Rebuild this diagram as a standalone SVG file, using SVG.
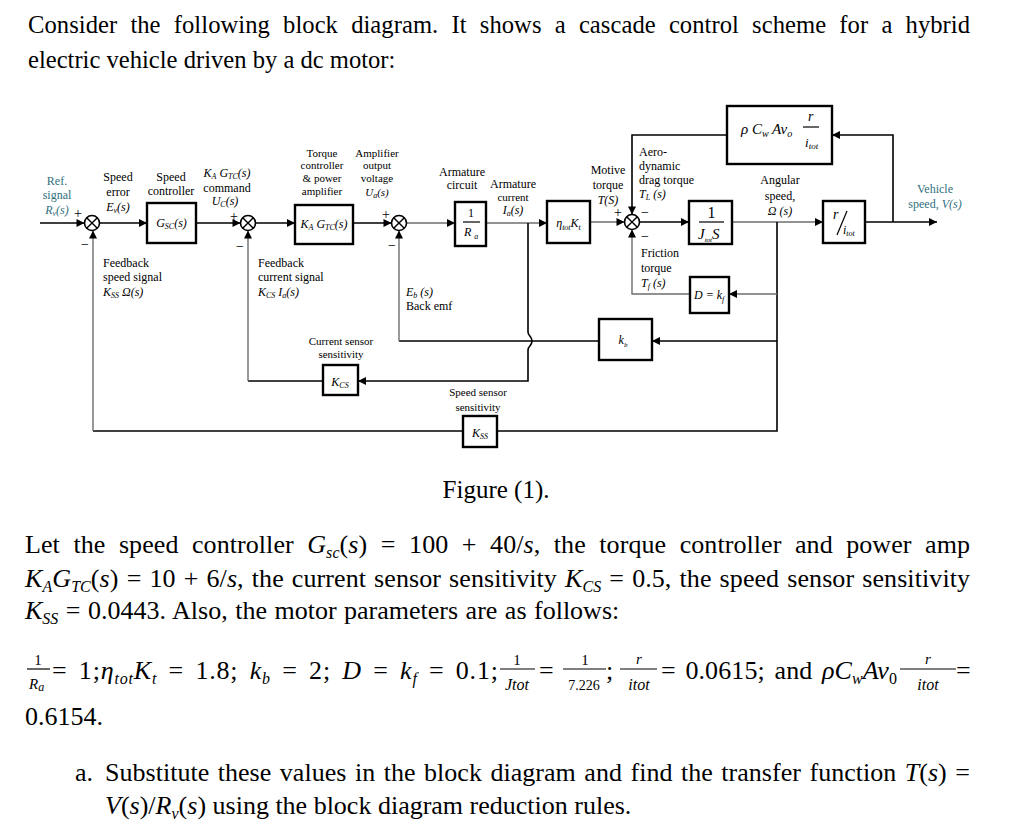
<svg xmlns="http://www.w3.org/2000/svg" width="1015" height="836" viewBox="0 0 1015 836">
<style>
text{font-family:"Liberation Serif","Times New Roman",serif;fill:#000}
.body{font-size:26px}
.top{font-size:24.6px}
.lb{font-size:12px}
.sm{font-size:11px}
.mid{text-anchor:middle}
.it{font-style:italic}
.teal{fill:#2f6f7e}
.sg{font-size:14px}
.blk{fill:#fff;stroke:#000;stroke-width:2.4}
.ln{fill:none;stroke:#000;stroke-width:1.6}
.lg{fill:none;stroke:#6e6e6e;stroke-width:1.4}
.sum{fill:#fff;stroke:#000;stroke-width:1.6}
.bar{stroke:#000;stroke-width:1.2}
</style>
<defs>
<marker id="ar" viewBox="0 0 10 10" refX="10" refY="5" markerWidth="9" markerHeight="8" markerUnits="userSpaceOnUse" orient="auto">
<path d="M0,0 L10,5 L0,10 z" fill="#000"/>
</marker>
<g id="sx"><circle class="sum" r="7.5"/><path d="M-5.3,-5.3 L5.3,5.3 M-5.3,5.3 L5.3,-5.3" stroke="#000" stroke-width="1.4"/></g>
</defs>
<rect width="1015" height="836" fill="#fff"/>

<!-- Top paragraph -->
<text class="top" x="28" y="33" word-spacing="7" textLength="942" lengthAdjust="spacing">Consider the following block diagram. It shows a cascade control scheme for a hybrid</text>
<text class="top" x="28" y="68">electric vehicle driven by a dc motor:</text>

<!-- Connectors -->
<g id="connectors">
<path class="ln" d="M40,223 H84.5" marker-end="url(#ar)"/>
<path class="ln" d="M99.5,223 H147" marker-end="url(#ar)"/>
<path class="ln" d="M196,223 H240.5" marker-end="url(#ar)"/>
<path class="ln" d="M255.5,223 H295" marker-end="url(#ar)"/>
<path class="ln" d="M353,223 H391.5" marker-end="url(#ar)"/>
<path class="lg" d="M406.5,223 H455" marker-end="url(#ar)"/>
<path class="lg" d="M486,223 H547" marker-end="url(#ar)"/>
<path class="lg" d="M590,222 H624.5" marker-end="url(#ar)"/>
<path class="ln" d="M639.5,222 H689" marker-end="url(#ar)"/>
<path class="lg" d="M732,222 H823" marker-end="url(#ar)"/>
<path class="ln" d="M865,222 H937" marker-end="url(#ar)"/>
<path class="ln" d="M893,222 V135 H832" marker-end="url(#ar)"/>
<path class="ln" d="M727,135 H632 V214.5" marker-end="url(#ar)"/>
<path class="ln" d="M777,222 V431 H497"/>
<path class="ln" d="M463,431 H93"/>
<path class="lg" d="M93,431 V230.5" marker-end="url(#ar)"/>
<path class="lg" d="M777,294 H729" marker-end="url(#ar)"/>
<path class="lg" d="M690,294 H632 V229.5" marker-end="url(#ar)"/>
<path class="ln" d="M777,341 H652" marker-end="url(#ar)"/>
<path class="ln" d="M599,341 H399"/>
<path class="lg" d="M399,341 V230.5" marker-end="url(#ar)"/>
<path class="ln" d="M528,223 V332 C528,336 532,336 532,341 C532,346 528,346 528,350 V381 H358" marker-end="url(#ar)"/>
<path class="ln" d="M323,381 H248"/>
<path class="lg" d="M248,381 V230.5" marker-end="url(#ar)"/>
</g>

<!-- Summing junctions -->
<g id="sum1"><use href="#sx" x="92" y="223"/><text class="sg" x="74" y="218">+</text><text class="sg" x="81" y="249">−</text></g>
<g id="sum2"><use href="#sx" x="248" y="223"/><text class="sg" x="230" y="221">+</text><text class="sg" x="236" y="251">−</text></g>
<g id="sum3"><use href="#sx" x="399" y="223"/><text class="sg" x="382" y="219">+</text><text class="sg" x="388" y="250">−</text></g>
<g id="sum4"><use href="#sx" x="632" y="222"/><text class="sg" x="614" y="217">+</text><text class="sg" x="641" y="217">−</text><text class="sg" x="641" y="241">−</text></g>

<!-- Blocks -->
<g id="gsc"><rect class="blk" x="147" y="203" width="49" height="40"/><text class="lb mid it" x="171.5" y="227">G<tspan font-size="8" dy="2">SC</tspan><tspan dy="-2">(s)</tspan></text></g>
<g id="katc"><rect class="blk" x="295" y="205" width="58" height="39"/><text class="lb mid it" x="324" y="228">K<tspan font-size="8" dy="2">A</tspan><tspan dy="-2"> G</tspan><tspan font-size="8" dy="2">TC</tspan><tspan dy="-2">(s)</tspan></text></g>
<g id="ra"><rect class="blk" x="455" y="202" width="31" height="44"/><text class="lb mid" x="471" y="217">1</text><line class="bar" x1="463" y1="222" x2="480" y2="222"/><text class="lb it" x="464" y="236">R<tspan font-size="8" dx="3" dy="3">a</tspan></text></g>
<g id="kt"><rect class="blk" x="547" y="201" width="43" height="42"/><text class="lb mid it" x="568.5" y="227">η<tspan font-size="8" dy="3">tot</tspan><tspan dy="-3">K</tspan><tspan font-size="8" dy="3">t</tspan></text></g>
<g id="jtot"><rect class="blk" x="689" y="201" width="43" height="43"/><text class="mid" font-size="16" x="711.5" y="218">1</text><line class="bar" x1="699" y1="222" x2="724" y2="222"/><text class="it" font-size="15" x="698" y="239">J<tspan font-size="7" dy="3">tot</tspan><tspan dy="-3">S</tspan></text></g>
<g id="ritot"><rect class="blk" x="823" y="201" width="42" height="42"/><text class="it" font-size="14" x="833" y="219">r</text><line class="bar" x1="847" y1="211" x2="837" y2="235"/><text class="it" font-size="12" x="843" y="234">i<tspan font-size="8" dy="2">tot</tspan></text></g>
<g id="aero"><rect class="blk" x="727" y="106" width="105" height="58"/><text class="it" font-size="15" x="741" y="134">ρ C<tspan font-size="10" dy="3">w</tspan><tspan dy="-3"> Av</tspan><tspan font-size="10" dy="3">o</tspan></text><text class="it" font-size="14" x="808" y="121">r</text><line class="bar" x1="803" y1="127" x2="819" y2="127"/><text class="it" font-size="13" x="805" y="147">i<tspan font-size="9" dy="2">tot</tspan></text></g>
<g id="dkf"><rect class="blk" x="690" y="277" width="39" height="36"/><text class="lb it" x="694" y="299">D = k<tspan font-size="8" dy="3">f</tspan></text></g>
<g id="kb"><rect class="blk" x="599" y="319" width="53" height="41"/><text class="lb mid it" x="623" y="344">k<tspan font-size="7" dy="3">b</tspan></text></g>
<g id="kcs"><rect class="blk" x="323" y="365" width="35" height="30"/><text class="lb mid it" x="340" y="386">K<tspan font-size="8" dy="2">CS</tspan></text></g>
<g id="kss"><rect class="blk" x="463" y="416" width="34" height="31"/><text class="lb mid it" x="480" y="437">K<tspan font-size="8" dy="2">SS</tspan></text></g>

<!-- Labels -->
<g id="labels">
<text class="lb mid teal" x="57" y="185">Ref.</text>
<text class="lb mid teal" x="57" y="199">signal</text>
<text class="lb mid teal it" x="57" y="214">R<tspan font-size="8" dy="2">v</tspan><tspan dy="-2">(s)</tspan></text>
<text class="lb mid" x="118" y="181">Speed</text>
<text class="lb mid" x="118" y="196">error</text>
<text class="lb mid it" x="118" y="211">E<tspan font-size="8" dy="2">v</tspan><tspan dy="-2">(s)</tspan></text>
<text class="lb mid" x="171" y="181">Speed</text>
<text class="lb mid" x="171" y="195">controller</text>
<text class="lb mid it" x="227" y="177">K<tspan font-size="8" dy="2">A</tspan><tspan dy="-2"> G</tspan><tspan font-size="8" dy="2">TC</tspan><tspan dy="-2">(s)</tspan></text>
<text class="lb mid" x="227" y="192">command</text>
<text class="lb mid it" x="225" y="205">U<tspan font-size="8" dy="2">C</tspan><tspan dy="-2">(s)</tspan></text>
<text class="lb" x="103" y="267">Feedback</text>
<text class="lb" x="103" y="281">speed signal</text>
<text class="lb it" x="103" y="296">K<tspan font-size="8" dy="2">SS</tspan><tspan dy="-2"> Ω(s)</tspan></text>
<text class="lb" x="258" y="267">Feedback</text>
<text class="lb" x="258" y="281">current signal</text>
<text class="lb it" x="258" y="296">K<tspan font-size="8" dy="2">CS</tspan><tspan dy="-2"> I</tspan><tspan font-size="8" dy="2">a</tspan><tspan dy="-2">(s)</tspan></text>
<text class="sm mid" x="322" y="157">Torque</text>
<text class="sm mid" x="322" y="169">controller</text>
<text class="sm mid" x="322" y="182">&amp; power</text>
<text class="sm mid" x="322" y="195">amplifier</text>
<text class="sm mid" x="377" y="157">Amplifier</text>
<text class="sm mid" x="377" y="169">output</text>
<text class="sm mid" x="377" y="182">voltage</text>
<text class="sm mid it" x="377" y="196">U<tspan font-size="8" dy="2">a</tspan><tspan dy="-2">(s)</tspan></text>
<text class="lb mid" x="462" y="176">Armature</text>
<text class="lb mid" x="462" y="189">circuit</text>
<text class="lb mid" x="513" y="188">Armature</text>
<text class="sm mid" x="513" y="201">current</text>
<text class="lb mid it" x="513" y="214">I<tspan font-size="8" dy="2">a</tspan><tspan dy="-2">(s)</tspan></text>
<text class="lb it" x="406" y="296">E<tspan font-size="8" dy="2">b</tspan><tspan dy="-2"> (s)</tspan></text>
<text class="lb" x="406" y="310">Back emf</text>
<text class="lb mid" x="608" y="174">Motive</text>
<text class="lb mid" x="608" y="189">torque</text>
<text class="lb mid it" x="608" y="204">T(S)</text>
<text class="lb" x="639" y="156">Aero-</text>
<text class="lb" x="639" y="170">dynamic</text>
<text class="lb" x="639" y="184">drag torque</text>
<text class="lb it" x="639" y="198">T<tspan font-size="8" dy="2">L</tspan><tspan dy="-2"> (s)</tspan></text>
<text class="lb" x="641" y="257">Friction</text>
<text class="lb" x="641" y="272">torque</text>
<text class="lb it" x="641" y="287">T<tspan font-size="8" dy="2">f</tspan><tspan dy="-2"> (s)</tspan></text>
<text class="lb mid" x="780" y="184">Angular</text>
<text class="lb mid" x="780" y="200">speed,</text>
<text class="lb mid it" x="780" y="215">Ω (s)</text>
<text class="lb mid teal" x="935" y="193">Vehicle</text>
<text class="lb mid teal" x="935" y="208">speed, <tspan class="it">V(s)</tspan></text>
<text class="sm mid" x="341" y="345">Current sensor</text>
<text class="sm mid" x="341" y="358">sensitivity</text>
<text class="sm mid" x="478" y="396">Speed sensor</text>
<text class="sm mid" x="478" y="411">sensitivity</text>
</g>

<text class="mid" font-size="25" x="496" y="498">Figure (1).</text>

<!-- Lower paragraph -->
<text class="body" x="25" y="553" word-spacing="7" textLength="945" lengthAdjust="spacing">Let the speed controller <tspan class="it">G</tspan><tspan class="it" font-size="16" dy="5">sc</tspan><tspan dy="-5">(</tspan><tspan class="it">s</tspan>) = 100 + 40/<tspan class="it">s</tspan>, the torque controller and power amp</text>
<text class="body" x="25" y="587" word-spacing="1.5" textLength="945" lengthAdjust="spacing"><tspan class="it">K</tspan><tspan class="it" font-size="16" dy="5">A</tspan><tspan class="it" dy="-5">G</tspan><tspan class="it" font-size="16" dy="5">TC</tspan><tspan dy="-5">(</tspan><tspan class="it">s</tspan>) = 10 + 6/<tspan class="it">s</tspan>, the current sensor sensitivity <tspan class="it">K</tspan><tspan class="it" font-size="16" dy="5">CS</tspan><tspan dy="-5"> = 0.5, the speed sensor sensitivity</tspan></text>
<text class="body" x="25" y="619" word-spacing="1"><tspan class="it">K</tspan><tspan class="it" font-size="16" dy="5">SS</tspan><tspan dy="-5"> = 0.0443. Also, the motor parameters are as follows:</tspan></text>

<!-- fractions line -->
<text class="mid" font-size="15" x="38" y="665">1</text>
<line class="bar" x1="27" y1="669" x2="50" y2="669"/>
<text class="it" font-size="15" x="29" y="689">R<tspan font-size="12" dy="2">a</tspan></text>
<text class="body" x="52" y="679" word-spacing="4" textLength="446" lengthAdjust="spacing">= 1;<tspan class="it">η</tspan><tspan class="it" font-size="16" dy="5">tot</tspan><tspan class="it" dy="-5">K</tspan><tspan class="it" font-size="16" dy="5">t</tspan><tspan dy="-5"> = 1.8; </tspan><tspan class="it">k</tspan><tspan class="it" font-size="16" dy="5">b</tspan><tspan dy="-5"> = 2; </tspan><tspan class="it">D</tspan> = <tspan class="it">k</tspan><tspan class="it" font-size="16" dy="5">f</tspan><tspan dy="-5"> = 0.1;</tspan></text>
<text class="mid" font-size="15" x="517" y="665">1</text>
<line class="bar" x1="500" y1="669" x2="535" y2="669"/>
<text class="mid it" font-size="16" x="517" y="690">Jtot</text>
<text class="body" x="539" y="679">=</text>
<text class="mid" font-size="15" x="585" y="665">1</text>
<line class="bar" x1="563" y1="669" x2="606" y2="669"/>
<text class="mid" font-size="14" x="584" y="690">7.226</text>
<text class="body" x="606" y="679">;</text>
<text class="mid it" font-size="15" x="639" y="664">r</text>
<line class="bar" x1="620" y1="669" x2="657" y2="669"/>
<text class="mid it" font-size="16" x="639" y="690">itot</text>
<text class="body" x="661" y="679" word-spacing="3" textLength="236" lengthAdjust="spacing">= 0.0615; and <tspan class="it">ρC</tspan><tspan class="it" font-size="16" dy="5">w</tspan><tspan class="it" dy="-5">Av</tspan><tspan font-size="16" dy="5">0</tspan></text>
<text class="mid it" font-size="15" x="928" y="664">r</text>
<line class="bar" x1="900" y1="669" x2="956" y2="669"/>
<text class="mid it" font-size="16" x="928" y="690">itot</text>
<text class="body" x="956" y="679">=</text>
<text class="body" x="25" y="725">0.6154.</text>

<text class="body" x="75" y="781">a.</text>
<text class="body" x="105" y="781" word-spacing="2" textLength="865" lengthAdjust="spacing">Substitute these values in the block diagram and find the transfer function <tspan class="it">T</tspan>(<tspan class="it">s</tspan>) =</text>
<text class="body" x="105" y="814"><tspan class="it">V</tspan>(<tspan class="it">s</tspan>)/<tspan class="it">R</tspan><tspan class="it" font-size="16" dy="5">v</tspan><tspan dy="-5">(</tspan><tspan class="it">s</tspan>) using the block diagram reduction rules.</text>
</svg>
